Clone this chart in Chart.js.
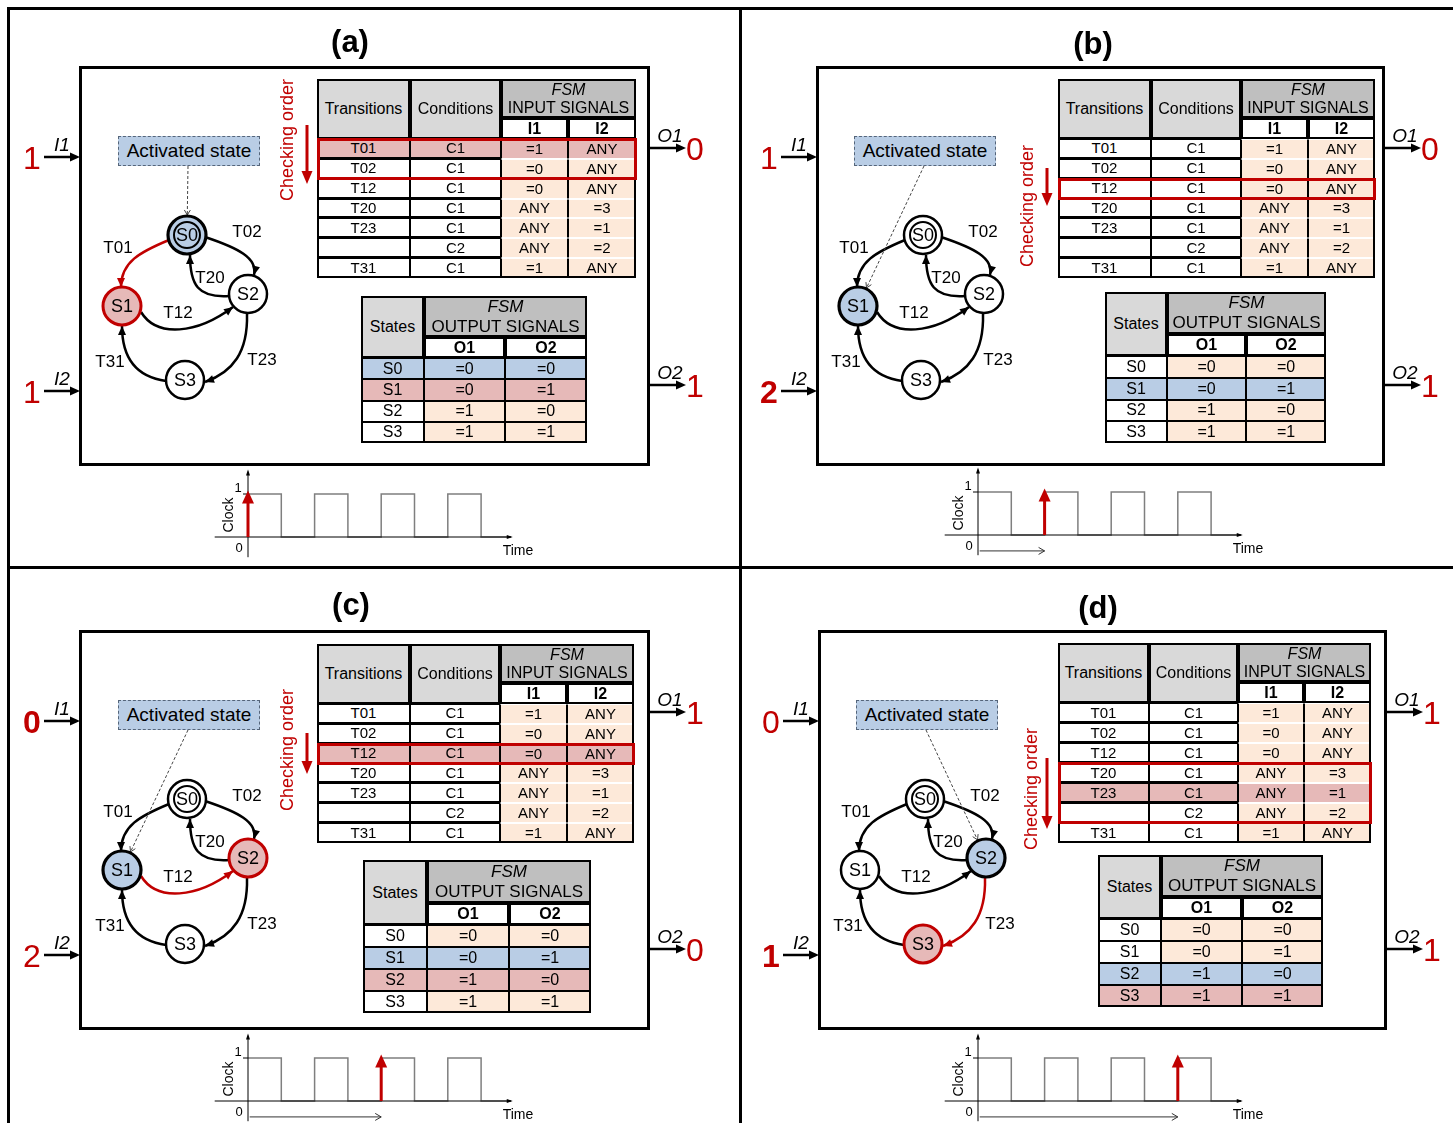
<!DOCTYPE html>
<html>
<head>
<meta charset="utf-8">
<script src="https://cdn.jsdelivr.net/npm/chart.js@4.4.0/dist/chart.umd.min.js"></script>
<style>
  body { margin: 0; background: #fff; }
  #page { position: relative; width: 1453px; height: 1123px; overflow: hidden; font-family: "Liberation Sans", Arial, sans-serif; color: #000; }
  .txt { position: absolute; white-space: nowrap; transform: translate(-50%, -50%); }
  .cell { position: absolute; box-sizing: border-box; border: 1px solid #000; display: flex; flex-direction: column; align-items: center; justify-content: center; text-align: center; font-size: 15px; line-height: 18px; }
  canvas { position: absolute; }
</style>
</head>
<body>
<div id="page"><canvas id="deco" width="1453" height="1123" style="left:0;top:0"></canvas></div>
<script>
// ---- data ----
const panelLabels = ['(a)', '(b)', '(c)', '(d)'];

const transitionNames = ['T01', 'T02', 'T12', 'T20', 'T23', '', 'T31'];
const conditionNames = ['C1', 'C1', 'C1', 'C1', 'C1', 'C2', 'C1'];
const inputI1 = ['=1', '=0', '=0', 'ANY', 'ANY', 'ANY', '=1'];
const inputI2 = ['ANY', 'ANY', 'ANY', '=3', '=1', '=2', 'ANY'];

const stateNames = ['S0', 'S1', 'S2', 'S3'];
const outputO1 = ['=0', '=0', '=1', '=1'];
const outputO2 = ['=0', '=1', '=0', '=1'];

const edgeNames = ['T01', 'T02', 'T20', 'T12', 'T23', 'T31'];

const clockTime = [0, 1, 2, 3, 4, 5, 6, 7, 7.9];
const clockLevel = [1, 0, 1, 0, 1, 0, 1, 0, 0];

// per panel
const signalI1 = ['1', '1', '0', '0'];
const signalI2 = ['1', '2', '2', '1'];
const signalO1 = ['0', '0', '1', '1'];
const signalO2 = ['1', '1', '0', '1'];
const changedInput = ['', 'I2', 'I1', 'I2'];
const activeState = [0, 1, 1, 2];
const nextState = [1, -1, 2, 3];
const firedEdge = ['T01', '', 'T12', 'T23'];
const checkedRows = [[0, 1], [2], [2], [3, 4, 5]];
const matchedRow = [0, -1, 2, 4];
const clockEdge = [0, 2, 4, 6];

// ---- layout ----
const RED = '#c00000';
const PEACH = '#fde9d9';
const PINK = '#e6b9b8';
const BLUE = '#b9cde5';
const GRAY = '#d9d9d9';
const DGRAY = '#bfbfbf';

const layout = [
  { title: [350, 42],  box: [80, 67, 648, 464],   inTab: [317, 79, 636, 278],   outTab: [361, 296, 587, 443],   check: [287, 140, 307, 125, 184], clock: [248, 537],  fsm: [85, 120] },
  { title: [1093, 44], box: [817, 67, 1383, 464], inTab: [1058, 79, 1375, 278], outTab: [1105, 292, 1326, 443], check: [1027, 206, 1047, 168, 206], clock: [978, 535], fsm: [821, 120] },
  { title: [351, 605], box: [80, 631, 648, 1028], inTab: [317, 644, 634, 843],  outTab: [363, 860, 591, 1013],  check: [287, 750, 307, 733, 774], clock: [248, 1101], fsm: [85, 684] },
  { title: [1098, 608], box: [819, 631, 1385, 1028], inTab: [1058, 643, 1371, 843], outTab: [1098, 855, 1323, 1007], check: [1031, 789, 1047, 758, 829], clock: [978, 1101], fsm: [823, 684] }
];

// FSM diagram frame (local pixels inside a 215x300 box)
const fsmNodes = [[102, 115], [37, 186], [163, 174], [100, 260]];
const fsmRadius = 19;
const fsmPaths = {
  T01: [[84, 120], [55, 132], [36, 142], [36, 167]],
  T02: [[120, 117], [153, 128], [173, 138], [169, 155]],
  T20: [[144, 176], [113, 178], [105, 165], [105, 135]],
  T12: [[56, 192], [72, 218], [112, 214], [148, 187]],
  T23: [[162, 194], [163, 232], [148, 252], [120, 262]],
  T31: [[81, 261], [45, 256], [37, 230], [37, 206]]
};
const fsmLabels = { T01: [33, 128], T02: [162, 112], T20: [125, 158], T12: [93, 193], T31: [25, 242], T23: [177, 240] };
const pointerStart = [103, 46];

const page = document.getElementById('page');

function addText(x, y, text, style) {
  const d = document.createElement('div');
  d.className = 'txt';
  d.style.left = x + 'px';
  d.style.top = y + 'px';
  d.textContent = text;
  Object.assign(d.style, style || {});
  page.appendChild(d);
  return d;
}

function addCell(x, y, w, h, lines, bg, style) {
  const d = document.createElement('div');
  d.className = 'cell';
  d.style.left = x + 'px';
  d.style.top = y + 'px';
  d.style.width = w + 'px';
  d.style.height = h + 'px';
  d.style.background = bg;
  lines.forEach(l => {
    const s = document.createElement('span');
    if (typeof l === 'string') s.textContent = l;
    else { s.textContent = l.t; if (l.i) s.style.fontStyle = 'italic'; if (l.b) s.style.fontWeight = 'bold'; }
    d.appendChild(s);
  });
  Object.assign(d.style, style || {});
  page.appendChild(d);
  return d;
}

function arrowHead(ctx, x1, y1, x2, y2, len, wid, filled) {
  const a = Math.atan2(y2 - y1, x2 - x1);
  ctx.beginPath();
  ctx.moveTo(x2 - len * Math.cos(a) + wid / 2 * Math.sin(a), y2 - len * Math.sin(a) - wid / 2 * Math.cos(a));
  ctx.lineTo(x2, y2);
  ctx.lineTo(x2 - len * Math.cos(a) - wid / 2 * Math.sin(a), y2 - len * Math.sin(a) + wid / 2 * Math.cos(a));
  if (filled) { ctx.closePath(); ctx.fill(); } else ctx.stroke();
}

function arrowLine(ctx, x1, y1, x2, y2, lw, color, len, wid) {
  ctx.strokeStyle = color; ctx.fillStyle = color; ctx.lineWidth = lw;
  const a = Math.atan2(y2 - y1, x2 - x1);
  ctx.beginPath();
  ctx.moveTo(x1, y1);
  ctx.lineTo(x2 - len * 0.6 * Math.cos(a), y2 - len * 0.6 * Math.sin(a));
  ctx.stroke();
  arrowHead(ctx, x1, y1, x2, y2, len, wid, true);
}

// ---- static frame ----
const deco = document.getElementById('deco').getContext('2d');
deco.strokeStyle = '#000';
deco.lineWidth = 3;
deco.beginPath();
deco.moveTo(8.5, 1123); deco.lineTo(8.5, 8.5); deco.lineTo(1453, 8.5);
deco.moveTo(740.5, 8); deco.lineTo(740.5, 1123);
deco.moveTo(8, 567.5); deco.lineTo(1453, 567.5);
deco.stroke();

// ---- clock chart decorations ----
const clockDecor = {
  id: 'clockDecor',
  afterDatasetsDraw(chart, args, opts) {
    const { ctx, scales: { x, y } } = chart;
    const px = v => x.getPixelForValue(v);
    const py = v => y.getPixelForValue(v);
    ctx.save();
    ctx.strokeStyle = '#000';
    ctx.fillStyle = '#000';
    ctx.lineWidth = 1;
    ctx.beginPath();
    ctx.moveTo(px(-1), py(0)); ctx.lineTo(px(7.9), py(0));
    ctx.moveTo(px(0), py(-0.47)); ctx.lineTo(px(0), py(1.52));
    ctx.moveTo(px(-0.15), py(1)); ctx.lineTo(px(0), py(1));
    ctx.stroke();
    arrowHead(ctx, px(0), py(0), px(7.95), py(0), 6, 4, true);
    arrowHead(ctx, px(0), py(0), px(0), py(1.57), 6, 4, true);
    if (opts.edge > 0) {
      ctx.strokeStyle = '#333';
      ctx.beginPath();
      ctx.moveTo(px(0.05), py(-0.37)); ctx.lineTo(px(opts.edge), py(-0.37));
      ctx.stroke();
      arrowHead(ctx, px(0), py(-0.37), px(opts.edge), py(-0.37), 6, 7, false);
    }
    arrowLine(ctx, px(opts.edge), py(0), px(opts.edge), py(1.08), 3, RED, 13, 12);
    ctx.restore();
  }
};

// ---- FSM decorations ----
function toPx(chart, p) {
  return [chart.scales.x.getPixelForValue(p[0]), chart.scales.y.getPixelForValue(p[1])];
}
const fsmDecor = {
  id: 'fsmDecor',
  beforeDatasetsDraw(chart, args, opts) {
    const ctx = chart.ctx;
    ctx.save();
    edgeNames.forEach(name => {
      const pts = fsmPaths[name].map(p => toPx(chart, p));
      const color = name === opts.fired ? RED : '#000';
      ctx.strokeStyle = color; ctx.fillStyle = color; ctx.lineWidth = 2.5;
      ctx.beginPath();
      ctx.moveTo(pts[0][0], pts[0][1]);
      ctx.bezierCurveTo(pts[1][0], pts[1][1], pts[2][0], pts[2][1], pts[3][0], pts[3][1]);
      ctx.stroke();
      arrowHead(ctx, pts[2][0], pts[2][1], pts[3][0], pts[3][1], 9, 8, true);
    });
    // dashed pointer from "Activated state" to the active node
    const s = toPx(chart, pointerStart);
    const n = toPx(chart, fsmNodes[opts.active]);
    const a = Math.atan2(n[1] - s[1], n[0] - s[0]);
    const ex = n[0] - (fsmRadius + 1) * Math.cos(a), ey = n[1] - (fsmRadius + 1) * Math.sin(a);
    ctx.strokeStyle = '#444'; ctx.lineWidth = 1; ctx.setLineDash([3, 2]);
    ctx.beginPath(); ctx.moveTo(s[0], s[1]); ctx.lineTo(ex, ey); ctx.stroke();
    ctx.setLineDash([]);
    arrowHead(ctx, s[0], s[1], ex, ey, 5, 6, false);
    ctx.restore();
  },
  afterDatasetsDraw(chart, args, opts) {
    const ctx = chart.ctx;
    ctx.save();
    const c0 = toPx(chart, fsmNodes[0]);
    ctx.strokeStyle = '#000'; ctx.lineWidth = 2;
    ctx.beginPath(); ctx.arc(c0[0], c0[1], 13, 0, Math.PI * 2); ctx.stroke();
    ctx.fillStyle = '#000';
    ctx.textAlign = 'center'; ctx.textBaseline = 'middle';
    ctx.font = '18px "Liberation Sans", Arial, sans-serif';
    stateNames.forEach((s, i) => {
      const c = toPx(chart, fsmNodes[i]);
      ctx.fillText(s, c[0], c[1] + 1);
    });
    ctx.font = '17px "Liberation Sans", Arial, sans-serif';
    edgeNames.forEach(name => {
      const c = toPx(chart, fsmLabels[name]);
      ctx.fillText(name, c[0], c[1]);
    });
    ctx.restore();
  }
};

// ---- panels ----
const UX = 33.3, UY = 43;

layout.forEach((L, p) => {
  const [bx0, by0, bx1, by1] = L.box;

  // title
  addText(L.title[0], L.title[1], panelLabels[p], { fontSize: '31px', fontWeight: 'bold' });

  // inner box
  deco.lineWidth = 3; deco.strokeStyle = '#000';
  deco.strokeRect(bx0 + 0.5, by0 + 0.5, bx1 - bx0, by1 - by0);

  // I/O arrows and values
  const i1y = by0 + 90, i2y = by0 + 324, o1y = by0 + 81, o2y = by0 + 318;
  arrowLine(deco, bx0 - 36, i1y, bx0, i1y, 2.5, '#000', 10, 9);
  arrowLine(deco, bx0 - 36, i2y, bx0, i2y, 2.5, '#000', 10, 9);
  arrowLine(deco, bx1 + 1, o1y, bx1 + 38, o1y, 2.5, '#000', 10, 9);
  arrowLine(deco, bx1 + 1, o2y, bx1 + 38, o2y, 2.5, '#000', 10, 9);
  const big = { fontSize: '32px', color: RED };
  addText(bx0 - 48, i1y + 1, signalI1[p], Object.assign({}, big, changedInput[p] === 'I1' ? { fontWeight: 'bold' } : {}));
  addText(bx0 - 48, i2y + 1, signalI2[p], Object.assign({}, big, changedInput[p] === 'I2' ? { fontWeight: 'bold' } : {}));
  addText(bx1 + 47, o1y + 1, signalO1[p], big);
  addText(bx1 + 47, o2y + 1, signalO2[p], big);
  const lab = { fontSize: '19px', fontStyle: 'italic' };
  addText(bx0 - 18, i1y - 12, 'I1', lab);
  addText(bx0 - 18, i2y - 12, 'I2', lab);
  addText(bx1 + 22, o1y - 12, 'O1', lab);
  addText(bx1 + 22, o2y - 12, 'O2', lab);

  // checking order
  addText(L.check[0], L.check[1], 'Checking order', { fontSize: '18px', color: RED, transform: 'translate(-50%, -50%) rotate(-90deg)' });
  arrowLine(deco, L.check[2], L.check[3], L.check[2], L.check[4], 3, RED, 13, 11);

  // input table
  const [tx0, ty0, tx1, ty1] = L.inTab;
  const TW = tx1 - tx0, TH = ty1 - ty0;
  const fr = [0.292, 0.285, 0.21, 0.213];
  const cx = [tx0];
  fr.forEach((f, i) => cx.push(i === fr.length - 1 ? tx1 : Math.round(cx[i] + f * TW)));
  const h1 = Math.round(TH * 0.196), h2 = Math.round(TH * 0.106);
  const rh = (TH - h1 - h2) / transitionNames.length;
  const frame = { border: '2px solid #000', fontSize: '16px' };
  addCell(cx[0], ty0, cx[1] - cx[0], h1 + h2, ['Transitions'], GRAY, frame);
  addCell(cx[1], ty0, cx[2] - cx[1], h1 + h2, ['Conditions'], GRAY, frame);
  addCell(cx[2], ty0, cx[4] - cx[2], h1, [{ t: 'FSM', i: true }, 'INPUT SIGNALS'], DGRAY, frame);
  addCell(cx[2], ty0 + h1, cx[3] - cx[2], h2, [{ t: 'I1', b: true }], '#fff', frame);
  addCell(cx[3], ty0 + h1, cx[4] - cx[3], h2, [{ t: 'I2', b: true }], '#fff', frame);
  transitionNames.forEach((t, r) => {
    const y = ty0 + h1 + h2 + r * rh;
    const hit = matchedRow[p] === r;
    const vals = [t, conditionNames[r], inputI1[r], inputI2[r]];
    vals.forEach((v, c) => {
      const bg = hit ? PINK : (c < 2 ? '#fff' : PEACH);
      const st = c < 2 ? { border: '1px solid #000', borderWidth: '1px 1px 2px 1px' }
                       : { border: '1px solid #000', borderTopColor: '#fff', borderBottomColor: '#fff' };
      addCell(cx[c], y, cx[c + 1] - cx[c], rh, [v], bg, st);
    });
  });
  const tabBorder = document.createElement('div');
  Object.assign(tabBorder.style, { position: 'absolute', left: tx0 + 'px', top: ty0 + 'px', width: TW + 'px', height: TH + 'px', border: '2px solid #000', boxSizing: 'border-box' });
  page.appendChild(tabBorder);
  const rows = checkedRows[p];
  const hi = document.createElement('div');
  Object.assign(hi.style, {
    position: 'absolute', boxSizing: 'border-box', border: '3px solid ' + RED,
    left: tx0 + 'px', width: (TW + 1) + 'px',
    top: Math.round(ty0 + h1 + h2 + rows[0] * rh - 1) + 'px',
    height: Math.round(rows.length * rh + 2) + 'px'
  });
  page.appendChild(hi);

  // output table
  const [ox0, oy0, ox1, oy1] = L.outTab;
  const OW = ox1 - ox0, OH = oy1 - oy0;
  const ofr = [0.279, 0.358, 0.363];
  const ocx = [ox0];
  ofr.forEach((f, i) => ocx.push(i === ofr.length - 1 ? ox1 : Math.round(ocx[i] + f * OW)));
  const oh1 = Math.round(OH * 0.279), oh2 = Math.round(OH * 0.143);
  const orh = (OH - oh1 - oh2) / stateNames.length;
  addCell(ocx[0], oy0, ocx[1] - ocx[0], oh1 + oh2, ['States'], GRAY, frame);
  addCell(ocx[1], oy0, ocx[3] - ocx[1], oh1, [{ t: 'FSM', i: true }, 'OUTPUT SIGNALS'], DGRAY, Object.assign({}, frame, { fontSize: '17px', lineHeight: '20px' }));
  addCell(ocx[1], oy0 + oh1, ocx[2] - ocx[1], oh2, [{ t: 'O1', b: true }], '#fff', frame);
  addCell(ocx[2], oy0 + oh1, ocx[3] - ocx[2], oh2, [{ t: 'O2', b: true }], '#fff', frame);
  stateNames.forEach((s, r) => {
    const y = oy0 + oh1 + oh2 + r * orh;
    const fill = r === activeState[p] ? BLUE : (r === nextState[p] ? PINK : null);
    [s, outputO1[r], outputO2[r]].forEach((v, c) => {
      const bg = fill || (c === 0 ? '#fff' : PEACH);
      addCell(ocx[c], y, ocx[c + 1] - ocx[c], orh, [v], bg, { fontSize: '16px', borderWidth: '1px 1px 1.5px 1px' });
    });
  });
  const oBorder = document.createElement('div');
  Object.assign(oBorder.style, { position: 'absolute', left: ox0 + 'px', top: oy0 + 'px', width: OW + 'px', height: OH + 'px', border: '2px solid #000', boxSizing: 'border-box' });
  page.appendChild(oBorder);

  // FSM diagram chart
  const fc = document.createElement('canvas');
  fc.width = 215; fc.height = 300;
  fc.style.left = L.fsm[0] + 'px'; fc.style.top = L.fsm[1] + 'px';
  page.appendChild(fc);
  const nodeFill = stateNames.map((s, i) => i === activeState[p] ? BLUE : (i === nextState[p] ? PINK : '#fff'));
  const nodeBorder = stateNames.map((s, i) => i === nextState[p] ? RED : '#000');
  const nodeWidth = stateNames.map((s, i) => i === activeState[p] ? 3.2 : (i === nextState[p] ? 3 : 2.5));
  new Chart(fc, {
    type: 'scatter',
    data: {
      datasets: [{
        data: fsmNodes.map(n => ({ x: n[0], y: n[1] })),
        pointRadius: fsmRadius,
        pointBackgroundColor: nodeFill,
        pointBorderColor: nodeBorder,
        pointBorderWidth: nodeWidth
      }]
    },
    options: {
      responsive: false,
      animation: false,
      events: [],
      layout: { padding: 0, autoPadding: false },
      plugins: { legend: { display: false }, tooltip: { enabled: false }, fsmDecor: { fired: firedEdge[p], active: activeState[p] } },
      scales: {
        x: { type: 'linear', display: false, min: 0, max: 215 },
        y: { type: 'linear', display: false, min: 0, max: 300, reverse: true }
      }
    },
    plugins: [fsmDecor]
  });

  // "Activated state" label box
  const ab = document.createElement('div');
  Object.assign(ab.style, {
    position: 'absolute', boxSizing: 'border-box', left: (L.fsm[0] + 33) + 'px', top: (L.fsm[1] + 16) + 'px',
    width: '142px', height: '30px', background: BLUE, border: '1px dashed #55657a',
    display: 'flex', alignItems: 'center', justifyContent: 'center', fontSize: '19px'
  });
  ab.textContent = 'Activated state';
  page.appendChild(ab);

  // clock chart
  const [x0, yb] = L.clock;
  const cw = 323, ch = 103, cl = x0 - 40, ct = yb - 71;
  const cc = document.createElement('canvas');
  cc.width = cw; cc.height = ch;
  cc.style.left = cl + 'px'; cc.style.top = ct + 'px';
  page.appendChild(cc);
  new Chart(cc, {
    type: 'scatter',
    data: {
      datasets: [{
        data: clockTime.map((t, i) => ({ x: t, y: clockLevel[i] })),
        showLine: true,
        stepped: 'before',
        borderColor: '#7f7f7f',
        borderWidth: 1.5,
        pointRadius: 0
      }]
    },
    options: {
      responsive: false,
      animation: false,
      events: [],
      layout: { padding: 0, autoPadding: false },
      plugins: { legend: { display: false }, tooltip: { enabled: false }, clockDecor: { edge: clockEdge[p] } },
      scales: {
        x: { type: 'linear', display: false, min: -40 / UX, max: (cw - 40) / UX },
        y: { type: 'linear', display: false, min: -(ch - 71) / UY, max: 71 / UY }
      }
    },
    plugins: [clockDecor]
  });
  addText(x0 - 10, yb - 50, '1', { fontSize: '13px' });
  addText(x0 - 9, yb + 10, '0', { fontSize: '13px' });
  addText(x0 - 20, yb - 22, 'Clock', { fontSize: '14px', transform: 'translate(-50%, -50%) rotate(-90deg)' });
  addText(x0 + 270, yb + 13, 'Time', { fontSize: '14px' });
});
</script>
</body>
</html>
